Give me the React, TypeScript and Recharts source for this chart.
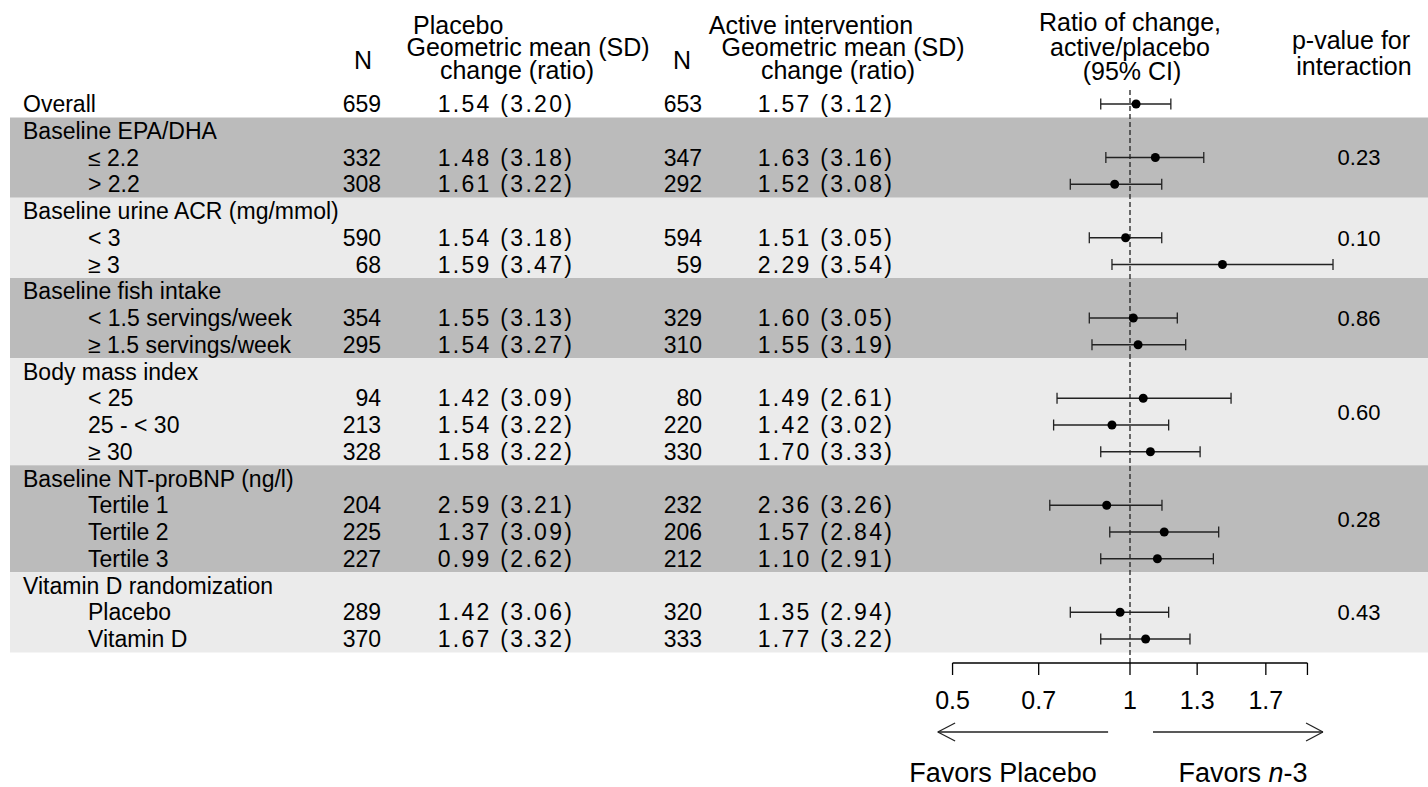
import React from 'react';
import { ComposedChart, XAxis, YAxis, Scatter, ErrorBar, ReferenceArea, ReferenceLine } from 'recharts';

// ---------- data ----------
const rowLabels = [
  'Overall',
  'Baseline EPA/DHA', '\u2264 2.2', '> 2.2',
  'Baseline urine ACR (mg/mmol)', '< 3', '\u2265 3',
  'Baseline fish intake', '< 1.5 servings/week', '\u2265 1.5 servings/week',
  'Body mass index', '< 25', '25 - < 30', '\u2265 30',
  'Baseline NT-proBNP (ng/l)', 'Tertile 1', 'Tertile 2', 'Tertile 3',
  'Vitamin D randomization', 'Placebo', 'Vitamin D',
];
const rowIsSubgroup = [
  false,
  false, true, true,
  false, true, true,
  false, true, true,
  false, true, true, true,
  false, true, true, true,
  false, true, true,
];
const nPlacebo = [659, null, 332, 308, null, 590, 68, null, 354, 295, null, 94, 213, 328, null, 204, 225, 227, null, 289, 370];
const gmPlacebo = [1.54, null, 1.48, 1.61, null, 1.54, 1.59, null, 1.55, 1.54, null, 1.42, 1.54, 1.58, null, 2.59, 1.37, 0.99, null, 1.42, 1.67];
const sdPlacebo = [3.20, null, 3.18, 3.22, null, 3.18, 3.47, null, 3.13, 3.27, null, 3.09, 3.22, 3.22, null, 3.21, 3.09, 2.62, null, 3.06, 3.32];
const nActive = [653, null, 347, 292, null, 594, 59, null, 329, 310, null, 80, 220, 330, null, 232, 206, 212, null, 320, 333];
const gmActive = [1.57, null, 1.63, 1.52, null, 1.51, 2.29, null, 1.60, 1.55, null, 1.49, 1.42, 1.70, null, 2.36, 1.57, 1.10, null, 1.35, 1.77];
const sdActive = [3.12, null, 3.16, 3.08, null, 3.05, 3.54, null, 3.05, 3.19, null, 2.61, 3.02, 3.33, null, 3.26, 2.84, 2.91, null, 2.94, 3.22];

const ratioPoint = [1.024, null, 1.104, 0.942, null, 0.983, 1.435, null, 1.013, 1.032, null, 1.053, 0.932, 1.083, null, 0.913, 1.143, 1.113, null, 0.962, 1.063];
const ratioLower = [0.892, null, 0.910, 0.792, null, 0.853, 0.932, null, 0.853, 0.862, null, 0.752, 0.742, 0.892, null, 0.731, 0.924, 0.892, null, 0.792, 0.892];
const ratioUpper = [1.173, null, 1.334, 1.132, null, 1.132, 2.210, null, 1.203, 1.243, null, 1.484, 1.163, 1.315, null, 1.133, 1.414, 1.385, null, 1.163, 1.264];

const groupFirstRow = [1, 4, 7, 10, 14, 18];
const groupLastRow = [3, 6, 9, 13, 17, 20];
const groupShade = ['dark', 'light', 'dark', 'light', 'dark', 'light'];
const pValues = ['0.23', '0.10', '0.86', '0.60', '0.28', '0.43'];

const axisTicks = [0.5, 0.7, 1, 1.3, 1.7, 2];
const axisTickLabels = ['0.5', '0.7', '1', '1.3', '1.7', ''];

// ---------- layout ----------
const W = 1428;
const H = 787;
const FONT = '"Liberation Sans", Arial, Helvetica, sans-serif';
const BODY = 22;
const GM = 23;
const NUM = 23;
const LABEL = 23;
const HEAD = 25;
const FAVORS = 27;
const PX_PER_LN = 256;
const X_ONE_PX = 1130;
const LEFT = 10;
const X_MIN = Math.exp((LEFT - X_ONE_PX) / PX_PER_LN);
const X_MAX = Math.exp((W - X_ONE_PX) / PX_PER_LN);
const ROW0_PX = 104;
const ROW_H = 26.75;
const AXIS_PX = 663;
const Y_TOP = -ROW0_PX / ROW_H;
const Y_BOTTOM = (AXIS_PX - ROW0_PX) / ROW_H;
const DASH_TOP = (90 - ROW0_PX) / ROW_H;
const ARROW_Y = (732 - ROW0_PX) / ROW_H;
const ARROW_ARM = 9 / ROW_H;

const leftArrow = { from: 0.918, tip: 0.472, arm: 0.505 };
const rightArrow = { from: 1.094, tip: 2.125, arm: 1.989 };

const BAND_COLORS: Record<string, string> = { dark: '#BBBBBB', light: '#EBEBEB' };

const tableRows = rowLabels.map((label, i) => ({
  x: 1,
  y: i,
  label,
  sub: rowIsSubgroup[i],
  nP: nPlacebo[i],
  gmP: gmPlacebo[i] == null ? '' : `${(gmPlacebo[i] as number).toFixed(2)} (${(sdPlacebo[i] as number).toFixed(2)})`,
  nA: nActive[i],
  gmA: gmActive[i] == null ? '' : `${(gmActive[i] as number).toFixed(2)} (${(sdActive[i] as number).toFixed(2)})`,
}));

const forestRows = ratioPoint
  .map((p, i) => (p == null ? null : {
    x: p,
    y: i,
    err: [p - (ratioLower[i] as number), (ratioUpper[i] as number) - p],
  }))
  .filter(Boolean) as { x: number; y: number; err: number[] }[];

const pRows = pValues.map((p, i) => ({ x: 1, y: (groupFirstRow[i] + groupLastRow[i]) / 2, p }));

const textBase = (cy: number, size: number) => cy + 0.358 * size;

const renderRowText = (props: any) => {
  const { cy, payload } = props;
  const yN = textBase(cy, NUM);
  const yG = textBase(cy, GM);
  const num = { fontFamily: FONT, fontSize: NUM, fill: '#000' };
  const gm = { fontFamily: FONT, fontSize: GM, fill: '#000', letterSpacing: 2.3 };
  return (
    <g>
      <text x={payload.sub ? 88 : 23} y={textBase(cy, LABEL)} fontFamily={FONT} fontSize={LABEL} fill="#000">{payload.label}</text>
      {payload.nP != null && <text x={381} y={yN} textAnchor="end" {...num}>{payload.nP}</text>}
      {payload.gmP && <text x={506} y={yG} textAnchor="middle" {...gm}>{payload.gmP}</text>}
      {payload.nA != null && <text x={702} y={yN} textAnchor="end" {...num}>{payload.nA}</text>}
      {payload.gmA && <text x={826} y={yG} textAnchor="middle" {...gm}>{payload.gmA}</text>}
    </g>
  );
};

const renderP = (props: any) => {
  const { cy, payload } = props;
  return (
    <text x={1359} y={textBase(cy, BODY)} textAnchor="middle" fontFamily={FONT} fontSize={BODY} fill="#000">
      {payload.p}
    </text>
  );
};

const renderDot = (props: any) => <circle cx={props.cx} cy={props.cy} r={4.5} fill="#000" />;

const headerStyle = { fontFamily: FONT, fontSize: HEAD, fill: '#000' };
const favorsStyle = { fontFamily: FONT, fontSize: FAVORS, fill: '#000' };

export default function App() {
  const lineStyle = { stroke: '#222', strokeWidth: 1.3 };
  const arrowLines = [leftArrow, rightArrow].flatMap((a, k) => [
    <ReferenceLine key={`a${k}m`} segment={[{ x: a.from, y: ARROW_Y }, { x: a.tip, y: ARROW_Y }]} ifOverflow="visible" {...lineStyle} />,
    <ReferenceLine key={`a${k}u`} segment={[{ x: a.arm, y: ARROW_Y - ARROW_ARM }, { x: a.tip, y: ARROW_Y }]} ifOverflow="visible" {...lineStyle} />,
    <ReferenceLine key={`a${k}d`} segment={[{ x: a.arm, y: ARROW_Y + ARROW_ARM }, { x: a.tip, y: ARROW_Y }]} ifOverflow="visible" {...lineStyle} />,
  ]);
  return (
    <div style={{ position: 'absolute', left: 0, top: 0, width: W, height: H, background: '#fff' }}>
      <ComposedChart width={W} height={H} margin={{ top: 0, right: 0, bottom: 0, left: LEFT }}>
        <XAxis
          type="number"
          dataKey="x"
          scale="log"
          domain={[X_MIN, X_MAX]}
          allowDataOverflow
          ticks={axisTicks}
          interval={0}
          tickFormatter={(v: number) => axisTickLabels[axisTicks.indexOf(v)] ?? ''}
          axisLine={false}
          tickLine={{ stroke: '#000', strokeWidth: 1.3 }}
          tickSize={12}
          tickMargin={16}
          height={H - AXIS_PX}
          tick={{ fontFamily: FONT, fontSize: HEAD, fill: '#000' }}
        />
        <YAxis type="number" dataKey="y" domain={[Y_TOP, Y_BOTTOM]} allowDataOverflow reversed hide />
        {groupFirstRow.map((s, i) => (
          <ReferenceArea
            key={`band${i}`}
            y1={s - 0.5}
            y2={groupLastRow[i] + 0.5}
            fill={BAND_COLORS[groupShade[i]]}
            fillOpacity={1}
            stroke="none"
          />
        ))}
        <ReferenceLine
          segment={[{ x: 1, y: DASH_TOP }, { x: 1, y: Y_BOTTOM }]}
          stroke="#222"
          strokeWidth={1.3}
          strokeDasharray="5 3"
          ifOverflow="visible"
        />
        <ReferenceLine
          segment={[{ x: axisTicks[0], y: Y_BOTTOM }, { x: axisTicks[axisTicks.length - 1], y: Y_BOTTOM }]}
          stroke="#000"
          strokeWidth={1.3}
          ifOverflow="visible"
        />
        {arrowLines}
        <Scatter data={tableRows} shape={renderRowText} isAnimationActive={false} />
        <Scatter data={pRows} shape={renderP} isAnimationActive={false} />
        <Scatter data={forestRows} shape={renderDot} isAnimationActive={false}>
          <ErrorBar dataKey="err" direction="x" width={5.5} stroke="#222" strokeWidth={1.3} isAnimationActive={false} />
        </Scatter>
        <g>
          <text x={413} y={34} {...headerStyle}>Placebo</text>
          <text x={528} y={56} textAnchor="middle" {...headerStyle}>Geometric mean (SD)</text>
          <text x={517} y={79} textAnchor="middle" {...headerStyle}>change (ratio)</text>
          <text x={363} y={69} textAnchor="middle" {...headerStyle}>N</text>
          <text x={811} y={34} textAnchor="middle" {...headerStyle}>Active intervention</text>
          <text x={843} y={56} textAnchor="middle" {...headerStyle}>Geometric mean (SD)</text>
          <text x={838} y={79} textAnchor="middle" {...headerStyle}>change (ratio)</text>
          <text x={682} y={69} textAnchor="middle" {...headerStyle}>N</text>
          <text x={1130} y={31} textAnchor="middle" {...headerStyle}>Ratio of change,</text>
          <text x={1130} y={56} textAnchor="middle" {...headerStyle}>active/placebo</text>
          <text x={1132} y={80} textAnchor="middle" {...headerStyle}>(95% CI)</text>
          <text x={1351} y={49} textAnchor="middle" {...headerStyle}>p-value for</text>
          <text x={1354} y={75} textAnchor="middle" {...headerStyle}>interaction</text>
          <text x={1003} y={782} textAnchor="middle" {...favorsStyle}>Favors Placebo</text>
          <text x={1243} y={782} textAnchor="middle" {...favorsStyle}>
            Favors <tspan fontStyle="italic">n</tspan>-3
          </text>
        </g>
      </ComposedChart>
    </div>
  );
}
